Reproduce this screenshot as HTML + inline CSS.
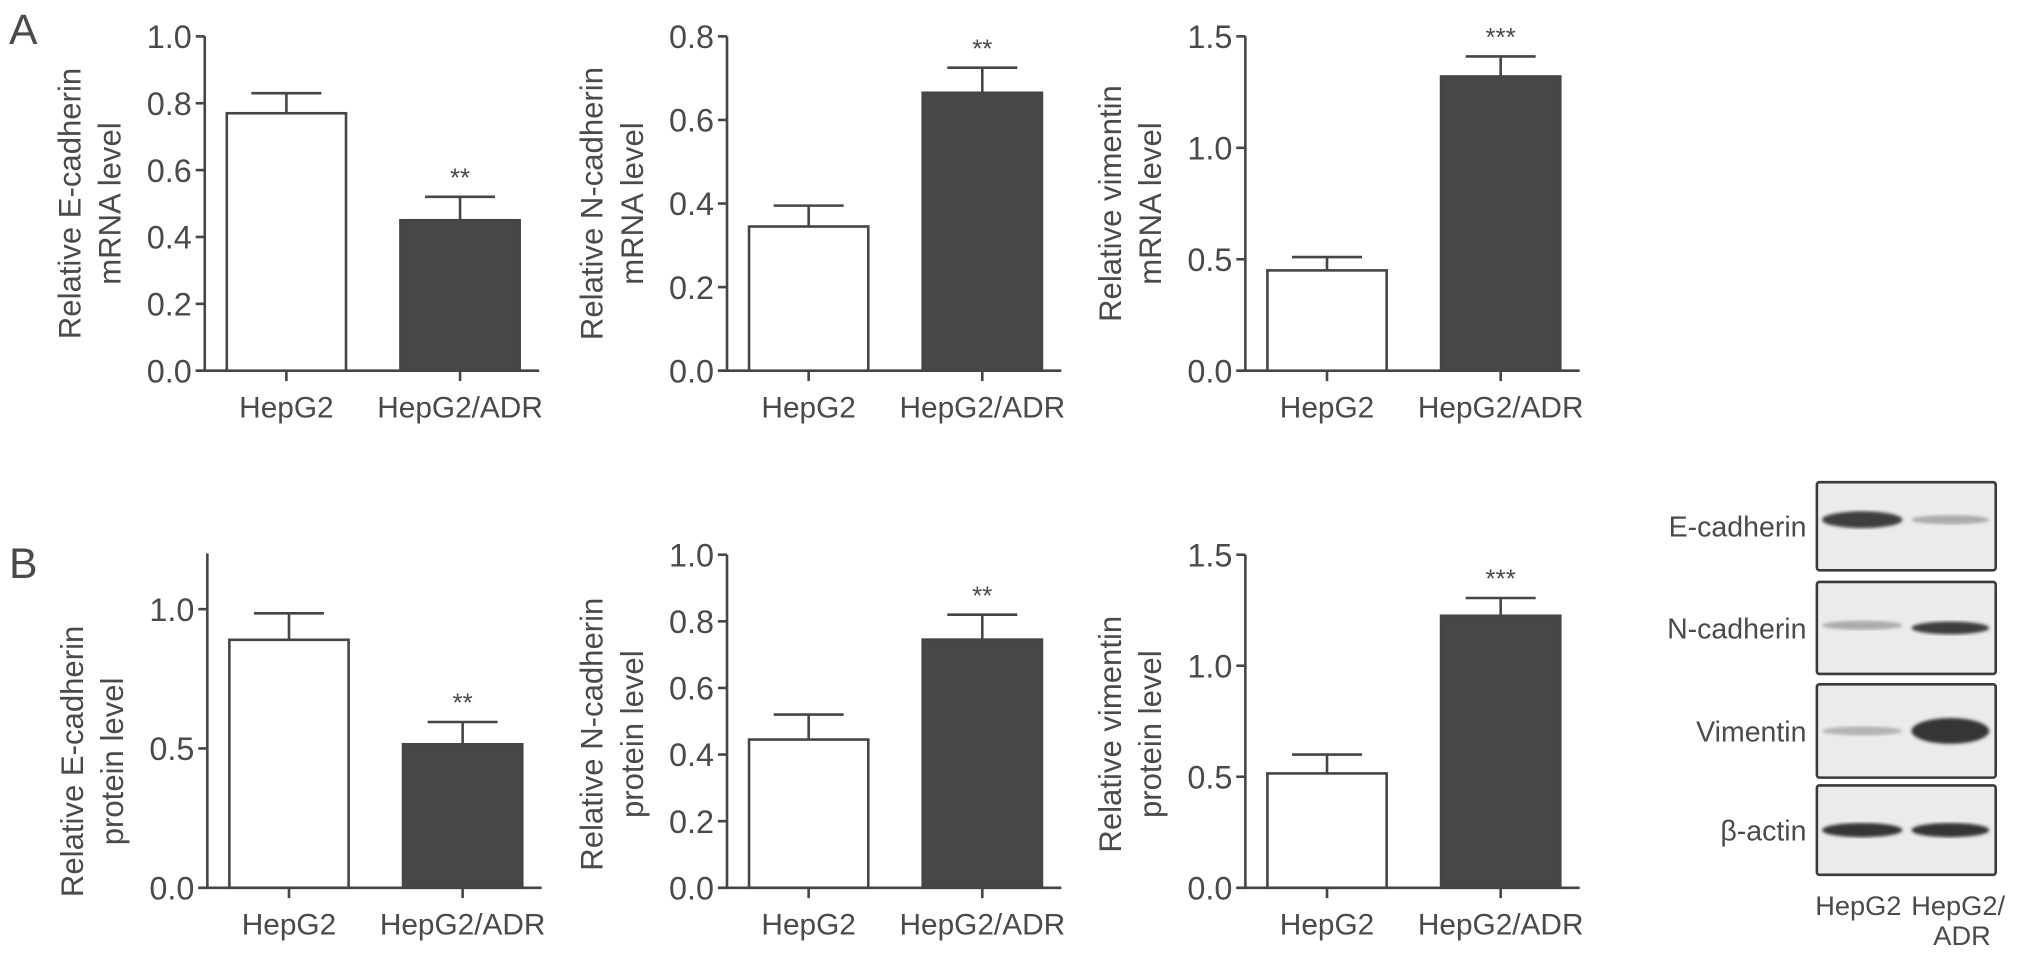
<!DOCTYPE html>
<html><head><meta charset="utf-8"><style>
html,body{margin:0;padding:0;background:#fff;}
svg{display:block;}
text{font-family:"Liberation Sans",sans-serif;fill:#4a4a4a;}
</style></head><body>
<svg id="fig" width="2032" height="963" viewBox="0 0 1568 743" xmlns="http://www.w3.org/2000/svg">
<text x="7" y="34" font-size="33">A</text>
<text x="7" y="446" font-size="33">B</text>
<g id="charts"></g>
<g id="blot"></g>
</svg>
<script>
const categories = ["HepG2", "HepG2/ADR"];
// Panel A (mRNA)
const aEcadMean = [0.77, 0.45], aEcadErr = [0.06, 0.07];
const aNcadMean = [0.345, 0.665], aNcadErr = [0.05, 0.06];
const aVimMean = [0.45, 1.32], aVimErr = [0.06, 0.09];
// Panel B (protein)
const bEcadMean = [0.89, 0.515], bEcadErr = [0.095, 0.08];
const bNcadMean = [0.445, 0.745], bNcadErr = [0.075, 0.075];
const bVimMean = [0.515, 1.225], bVimErr = [0.085, 0.08];
const sigLabels = [["", "**"], ["", "**"], ["", "***"], ["", "**"], ["", "**"], ["", "***"]];
const tickA1 = ["0.0","0.2","0.4","0.6","0.8","1.0"];
const tickA2 = ["0.0","0.2","0.4","0.6","0.8"];
const tickA3 = ["0.0","0.5","1.0","1.5"];
const tickB1 = ["0.0","0.5","1.0"];
const tickB2 = ["0.0","0.2","0.4","0.6","0.8","1.0"];
const tickB3 = ["0.0","0.5","1.0","1.5"];
const blotLabels = ["E-cadherin","N-cadherin","Vimentin","β-actin"];

const NS = "http://www.w3.org/2000/svg";
function mk(tag, attrs, parent, txt){
  const e = document.createElementNS(NS, tag);
  for (const k in attrs) e.setAttribute(k, attrs[k]);
  if (txt !== undefined) e.textContent = txt;
  parent.appendChild(e); return e;
}
const root = document.getElementById('charts');
const charts = [
  {id:"a-ecadherin", x0:158, y0:286, ytop:28, ymax:1.0, axisTop:1.0, ticks:tickA1, mean:aEcadMean, err:aEcadErr, l1:"Relative E-cadherin", l2:"mRNA level", s:0},
  {id:"a-ncadherin", x0:561, y0:286, ytop:28, ymax:0.8, axisTop:0.8, ticks:tickA2, mean:aNcadMean, err:aNcadErr, l1:"Relative N-cadherin", l2:"mRNA level", s:1},
  {id:"a-vimentin", x0:961, y0:286, ytop:28, ymax:1.5, axisTop:1.5, ticks:tickA3, mean:aVimMean, err:aVimErr, l1:"Relative vimentin", l2:"mRNA level", s:2},
  {id:"b-ecadherin", x0:160, y0:685, ytop:470, ymax:1.0, axisTop:1.2, ticks:tickB1, mean:bEcadMean, err:bEcadErr, l1:"Relative E-cadherin", l2:"protein level", s:3},
  {id:"b-ncadherin", x0:561, y0:685, ytop:428, ymax:1.0, axisTop:1.0, ticks:tickB2, mean:bNcadMean, err:bNcadErr, l1:"Relative N-cadherin", l2:"protein level", s:4},
  {id:"b-vimentin", x0:961, y0:685, ytop:428, ymax:1.5, axisTop:1.5, ticks:tickB3, mean:bVimMean, err:bVimErr, l1:"Relative vimentin", l2:"protein level", s:5}
];
charts.forEach(c => {
  const g = mk('g', {}, root);
  
  
  const y = v => c.y0 - v / c.ymax * (c.y0 - c.ytop);
  const col = "#454545";
  const ya = mk('line', {x1:c.x0, y1:y(c.axisTop), x2:c.x0, y2:c.y0+1, stroke:col, 'stroke-width':2}, g);
  
  
  c.ticks.forEach(t => {
    const v = parseFloat(t);
    mk('line', {x1:c.x0-7, y1:y(v), x2:c.x0, y2:y(v), stroke:col, 'stroke-width':2}, g);
    const tl = mk('text', {x:c.x0-10, y:y(v)+9, 'font-size':25, 'text-anchor':'end'}, g, t);
    
    
  });
  const xa = mk('line', {x1:c.x0-7, y1:c.y0, x2:c.x0+258, y2:c.y0, stroke:col, 'stroke-width':2}, g);
  
  
  const centers = [c.x0+63, c.x0+197];
  const bw = 92;
  categories.forEach((cat, i) => {
    const cx = centers[i];
    const top = y(c.mean[i]), et = y(c.mean[i] + c.err[i]);
    mk('line', {x1:cx, y1:top, x2:cx, y2:et, stroke:col, 'stroke-width':2}, g);
    mk('line', {x1:cx-27, y1:et, x2:cx+27, y2:et, stroke:col, 'stroke-width':2}, g);
    const b = mk('rect', {x:cx-bw/2, y:top, width:bw, height:c.y0-top, fill:i? "#474747":"#fff", stroke:col, 'stroke-width':2}, g);
    
    
    mk('line', {x1:cx, y1:c.y0, x2:cx, y2:c.y0+8, stroke:col, 'stroke-width':2}, g);
    const xl = mk('text', {x:cx, y:c.y0+36, 'font-size':23, 'text-anchor':'middle'}, g, cat);
    
    
    const sl = sigLabels[c.s][i];
    if (sl) {
      const st = mk('text', {x:cx, y:et-8, 'font-size':20, 'text-anchor':'middle'}, g, sl);
      
      
    }
  });
  const cy = (c.y0 + c.ytop) / 2 + (c.s >= 3 ? 10 : 0);
  const lx = c.x0 - 96;
  const t1 = mk('text', {x:lx, y:cy, 'font-size':24, 'text-anchor':'middle', transform:`rotate(-90 ${lx} ${cy})`}, g, c.l1);
  
  
  const t2 = mk('text', {x:lx+31, y:cy, 'font-size':24, 'text-anchor':'middle', transform:`rotate(-90 ${lx+31} ${cy})`}, g, c.l2);
  
  
});
const blot = document.getElementById('blot');
const defs = mk('defs', {}, blot);
const f = mk('filter', {id:'blur'}, defs);
mk('feGaussianBlur', {stdDeviation:1.2}, f);
const boxes = [[372,440],[449,520],[528,600],[606,675]];
const bandW = [[11,5,0.95,0.35],[5,8,0.35,0.95],[5,18,0.3,1],[9,9,1,1]];
boxes.forEach((bx, i) => {
  const r = mk('rect', {x:1402, y:bx[0], width:138, height:bx[1]-bx[0], fill:"#ebebeb", stroke:"#3a3a3a", 'stroke-width':2, rx:2}, blot);
  
  
  const cy = (bx[0]+bx[1])/2 + (i==0? -5 : i==1? -2: 0);
  const bw = bandW[i];
  mk('ellipse', {cx:1437, cy:cy, rx:31, ry:bw[0]/2+1, fill:"#363636", opacity:bw[2], filter:'url(#blur)'}, blot);
  mk('ellipse', {cx:1505, cy:cy+(i==1?2:0), rx:30, ry:bw[1]/2+1, fill:"#363636", opacity:bw[3], filter:'url(#blur)'}, blot);
  const l = mk('text', {x:1394, y:(bx[0]+bx[1])/2+8, 'font-size':22, 'text-anchor':'end'}, blot, blotLabels[i]);
  
  
});
const bl1 = mk('text', {x:1434, y:706, 'font-size':21, 'text-anchor':'middle'}, blot, "HepG2");


const bl2 = mk('text', {x:1511, y:706, 'font-size':21, 'text-anchor':'middle'}, blot, "HepG2/");


const bl3 = mk('text', {x:1514, y:729, 'font-size':21, 'text-anchor':'middle'}, blot, "ADR");


</script>
</body></html>
